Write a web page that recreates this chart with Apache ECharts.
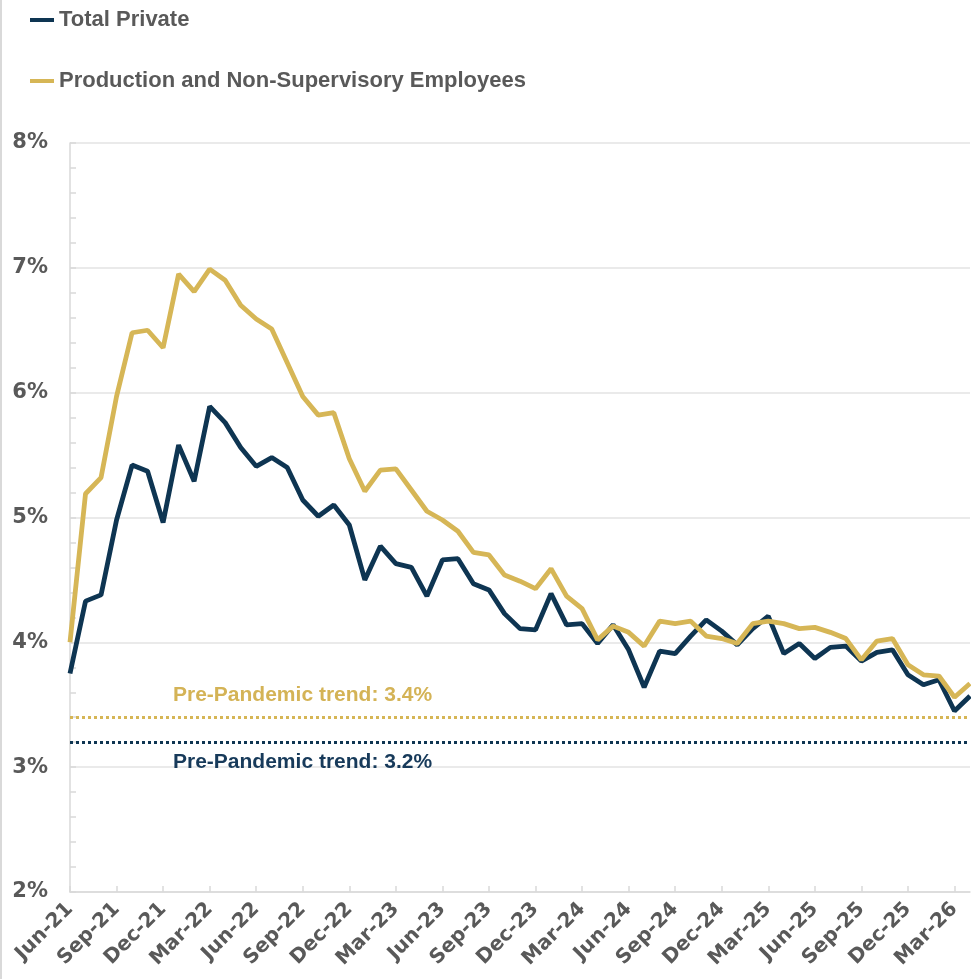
<!DOCTYPE html>
<html>
<head>
<meta charset="utf-8">
<script src="https://cdn.jsdelivr.net/npm/echarts@6/dist/echarts.min.js"></script>
<style>
    html, body { margin: 0; padding: 0; background: #fff; }
    #chart { width: 971px; height: 979px; }
    #edge { position: absolute; left: 0; top: 0; width: 2px; height: 979px; background: #d9d9d9; }
</style>
</head>
<body>
<div id="chart"></div>
<div id="edge"></div>
<script>
(function () {
    'use strict';

    var months = [
        'Jun-21', 'Jul-21', 'Aug-21', 'Sep-21', 'Oct-21', 'Nov-21', 'Dec-21',
        'Jan-22', 'Feb-22', 'Mar-22', 'Apr-22', 'May-22', 'Jun-22', 'Jul-22', 'Aug-22', 'Sep-22', 'Oct-22', 'Nov-22', 'Dec-22',
        'Jan-23', 'Feb-23', 'Mar-23', 'Apr-23', 'May-23', 'Jun-23', 'Jul-23', 'Aug-23', 'Sep-23', 'Oct-23', 'Nov-23', 'Dec-23',
        'Jan-24', 'Feb-24', 'Mar-24', 'Apr-24', 'May-24', 'Jun-24', 'Jul-24', 'Aug-24', 'Sep-24', 'Oct-24', 'Nov-24', 'Dec-24',
        'Jan-25', 'Feb-25', 'Mar-25', 'Apr-25', 'May-25', 'Jun-25', 'Jul-25', 'Aug-25', 'Sep-25', 'Oct-25', 'Nov-25', 'Dec-25',
        'Jan-26', 'Feb-26', 'Mar-26', 'Apr-26'
    ];

    var totalPrivate = [
        3.75, 4.33, 4.38, 4.98, 5.42, 5.37, 4.96,
        5.58, 5.29, 5.89, 5.76, 5.56, 5.41, 5.48, 5.40, 5.14, 5.01, 5.10, 4.94,
        4.50, 4.77, 4.63, 4.60, 4.37, 4.66, 4.67, 4.47, 4.42, 4.23, 4.11, 4.10,
        4.39, 4.14, 4.15, 3.99, 4.14, 3.94, 3.64, 3.93, 3.91, 4.05, 4.18, 4.09,
        3.98, 4.11, 4.21, 3.91, 3.99, 3.87, 3.96, 3.97, 3.85, 3.92, 3.94, 3.74,
        3.66, 3.70, 3.45, 3.57
    ];

    var productionNonSup = [
        4.00, 5.19, 5.32, 5.97, 6.48, 6.50, 6.36,
        6.95, 6.81, 6.99, 6.90, 6.70, 6.59, 6.51, 6.24, 5.97, 5.82, 5.84, 5.47,
        5.21, 5.38, 5.39, 5.22, 5.05, 4.98, 4.89, 4.72, 4.70, 4.54, 4.49, 4.43,
        4.59, 4.37, 4.27, 4.02, 4.13, 4.08, 3.97, 4.17, 4.15, 4.17, 4.05, 4.03,
        3.99, 4.15, 4.17, 4.15, 4.11, 4.12, 4.08, 4.03, 3.86, 4.01, 4.03, 3.82,
        3.74, 3.73, 3.56, 3.67
    ];

    // pre-pandemic trend levels
    var trendTotal = 3.2;
    var trendProduction = 3.4;

    var NAVY = '#0e3552';
    var GOLD = '#d6b656';
    var GRAY = '#595959';
    var LINE = '#d9d9d9';

    var chart = echarts.init(document.getElementById('chart'));

    chart.setOption({
        animation: false,
        legend: {
            orient: 'vertical',
            left: 25,
            top: 1,
            itemGap: 33,
            itemWidth: 24,
            itemHeight: 4,
            icon: 'rect',
            textStyle: {
                fontFamily: "'Liberation Sans Narrow', 'Liberation Sans', Arial, sans-serif",
                fontWeight: 'bold',
                fontSize: 22,
                lineHeight: 28,
                color: GRAY
            },
            data: ['Total Private', 'Production and Non-Supervisory Employees']
        },
        grid: { left: 70, right: 1, top: 143, bottom: 87 },
        xAxis: {
            type: 'category',
            data: months,
            boundaryGap: false,
            axisLine: { lineStyle: { color: LINE, width: 1.5 } },
            axisTick: { inside: true, interval: 2, length: 6, lineStyle: { color: LINE, width: 1.5 } },
            axisLabel: {
                interval: 2,
                rotate: 45,
                margin: 14,
                fontFamily: "'DejaVu Sans', sans-serif",
                fontWeight: 'bold',
                fontSize: 20,
                color: GRAY
            }
        },
        yAxis: {
            type: 'value',
            min: 2,
            max: 8,
            interval: 1,
            axisLine: { show: true, lineStyle: { color: LINE, width: 1.5 } },
            axisTick: { show: true, inside: true, length: 6, lineStyle: { color: LINE, width: 1.5 } },
            minorTick: { show: true, splitNumber: 5, length: 6, lineStyle: { color: LINE, width: 1.5 } },
            splitLine: { lineStyle: { color: '#e3e3e3', width: 1.5 } },
            axisLabel: {
                formatter: '{value}%',
                margin: 22,
                fontFamily: "'DejaVu Sans', sans-serif",
                fontWeight: 'bold',
                fontSize: 21,
                color: GRAY
            }
        },
        series: [
            {
                name: 'Total Private',
                type: 'line',
                data: totalPrivate,
                symbol: 'none',
                color: NAVY,
                lineStyle: { width: 4.8, color: NAVY },
                markLine: {
                    silent: true,
                    symbol: 'none',
                    lineStyle: { color: NAVY, type: [3, 3], width: 3 },
                    label: {
                        position: 'insideStartBottom',
                        distance: [103, 10],
                        formatter: 'Pre-Pandemic trend: 3.2%',
                        fontFamily: "'Liberation Sans', Arial, sans-serif",
                        fontWeight: 'bold',
                        fontSize: 21,
                        color: '#173a5a'
                    },
                    data: [{ yAxis: trendTotal }]
                }
            },
            {
                name: 'Production and Non-Supervisory Employees',
                type: 'line',
                data: productionNonSup,
                symbol: 'none',
                color: GOLD,
                lineStyle: { width: 4.8, color: GOLD },
                markLine: {
                    silent: true,
                    symbol: 'none',
                    lineStyle: { color: GOLD, type: [3, 3], width: 3 },
                    label: {
                        position: 'insideStartTop',
                        distance: [103, 12],
                        formatter: 'Pre-Pandemic trend: 3.4%',
                        fontFamily: "'Liberation Sans', Arial, sans-serif",
                        fontWeight: 'bold',
                        fontSize: 21,
                        color: '#d4b356'
                    },
                    data: [{ yAxis: trendProduction }]
                }
            }
        ]
    });
})();
</script>
</body>
</html>
